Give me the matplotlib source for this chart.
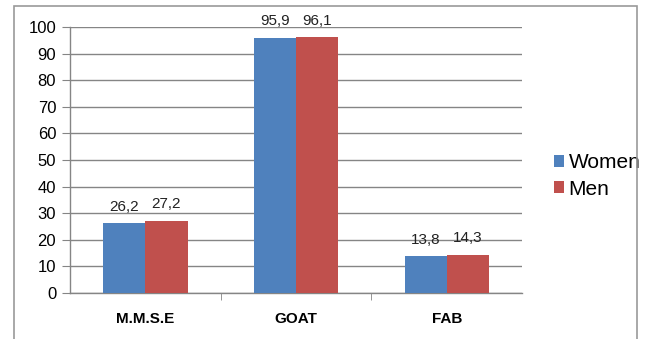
import matplotlib.pyplot as plt
import matplotlib.patches as patches
import numpy as np

plt.rcParams['font.family'] = ['Liberation Sans', 'DejaVu Sans']

categorias = ["M.M.S.E", "GOAT", "FAB"]
mulheres = [26.2, 95.9, 13.8]
homens = [27.2, 96.1, 14.3]
series = ["Women", "Men"]

cor_azul = '#4F81BD'
cor_vermelha = '#C0504D'
cinza = '#858585'

fig = plt.figure(figsize=(6.49, 3.39), dpi=100)
ax = fig.add_axes([0.1079, 0.1357, 0.6965, 0.7847])

# moldura externa do gráfico
moldura = patches.Rectangle((14 / 649, -0.05), (637 - 14) / 649, 1.05 - 6 / 339,
                            transform=fig.transFigure, fill=False,
                            edgecolor='#9A9A9A', linewidth=1.2)
fig.patches.append(moldura)

x = np.arange(len(categorias))
largura = 0.28
b1 = ax.bar(x - largura / 2, mulheres, largura, color=cor_azul, label=series[0], zorder=3)
b2 = ax.bar(x + largura / 2, homens, largura, color=cor_vermelha, label=series[1], zorder=3)

for barras in (b1, b2):
    for b in barras:
        v = b.get_height()
        ax.annotate(f"{v:.1f}".replace('.', ','), (b.get_x() + b.get_width() / 2, v),
                    xytext=(0, 7), textcoords='offset points',
                    ha='center', va='bottom', fontsize=11, color='#222222')

ax.set_xlim(-0.5, 2.5)
ax.set_ylim(0, 100)
ax.set_yticks(range(0, 101, 10))
ax.yaxis.grid(True, color=cinza, linewidth=1.0, zorder=0)
ax.set_axisbelow(True)

ax.set_xticks(x)
ax.set_xticklabels(categorias, fontweight='bold', fontsize=11)
ax.set_xticks([0.5, 1.5], minor=True)
ax.tick_params(axis='x', which='major', length=0, pad=14)
ax.tick_params(axis='x', which='minor', length=5, color=cinza, direction='out')
ax.tick_params(axis='y', length=6, color=cinza, labelsize=12, pad=4)

for lado in ('top', 'right'):
    ax.spines[lado].set_visible(False)
for lado in ('left', 'bottom'):
    ax.spines[lado].set_color(cinza)
    ax.spines[lado].set_linewidth(1.0)

ax.legend(loc='center left', bbox_to_anchor=(1.052, 0.44), frameon=False,
          fontsize=15, handlelength=0.5, handleheight=0.5, handletextpad=0.2,
          labelspacing=0.35, borderaxespad=0)

plt.savefig("out.png", dpi=100)
